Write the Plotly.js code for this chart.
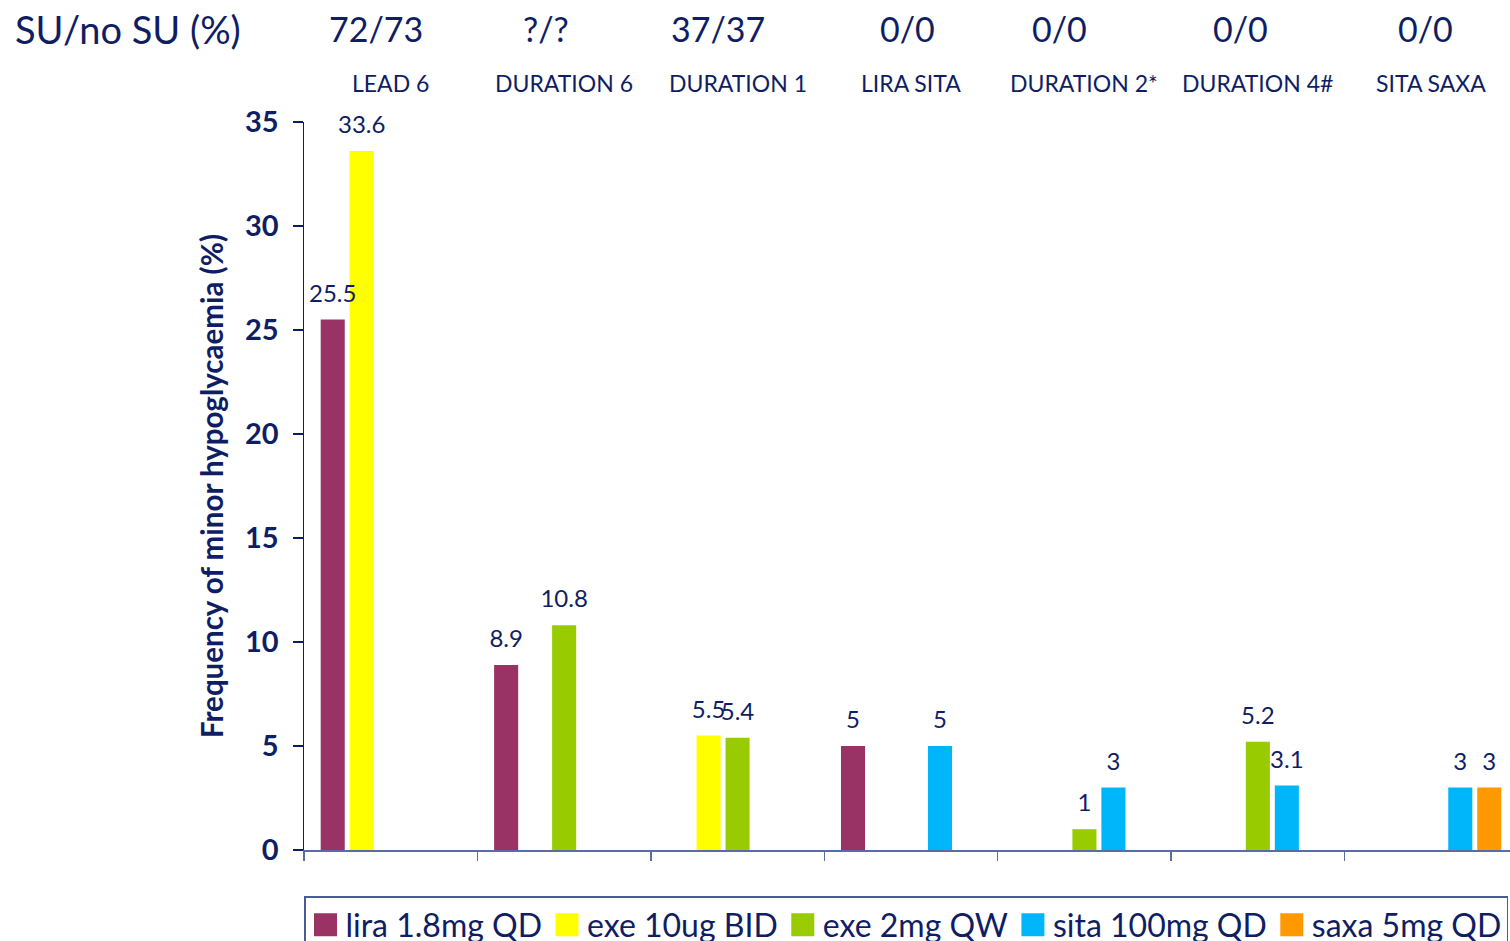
<!DOCTYPE html>
<html>
<head>
<meta charset="utf-8">
<script src="https://cdn.plot.ly/plotly-3.0.1.min.js"></script>
<style>
  html, body { margin: 0; padding: 0; background: #ffffff; overflow: hidden; }
  #chart { width: 1560px; height: 1000px; }
</style>
</head>
<body>
<div id="chart"></div>
<script>
// Trials along the x axis
const trials = ['LEAD 6', 'DURATION 6', 'DURATION 1', 'LIRA SITA', 'DURATION 2*', 'DURATION 4#', 'SITA SAXA'];
// Share of patients on background SU, shown above each trial
const suShares = ['72/73', '?/?', '37/37', '0/0', '0/0', '0/0', '0/0'];

// Frequency of minor hypoglycaemia (%) per treatment arm; null = arm not in trial
const lira18 = [25.5, 8.9, null, 5, null, null, null];
const exe10 = [33.6, null, 5.5, null, null, null, null];
const exe2 = [null, 10.8, 5.4, null, 1, 5.2, null];
const sita100 = [null, null, null, 5, 3, 3.1, 3];
const saxa5 = [null, null, null, null, null, null, 3];

const seriesNames = ['lira 1.8mg QD', 'exe 10ug BID', 'exe 2mg QW', 'sita 100mg QD', 'saxa 5mg QD'];
const seriesValues = [lira18, exe10, exe2, sita100, saxa5];
const seriesColors = ['#993366', '#FFFF00', '#99CC00', '#00B6FA', '#FF9900'];

const NAVY = '#0F1E64';
const FONT = 'Lato, "Open Sans", sans-serif';

const traces = seriesNames.map((name, i) => ({
  type: 'bar',
  name: name,
  x: trials,
  y: seriesValues[i],
  marker: { color: seriesColors[i] },
  text: seriesValues[i].map(v => (v === null ? '' : String(v))),
  texttemplate: '%{text}',
  textposition: 'outside',
  textfont: { family: FONT, size: 24, color: NAVY },
  constraintext: 'none',
  cliponaxis: false,
  hoverinfo: 'name+y'
}));

const annotations = [];
annotations.push({
  text: 'SU/no SU (%)', xref: 'paper', yref: 'paper', x: -0.145, y: 1.128,
  xanchor: 'center', yanchor: 'middle', showarrow: false,
  font: { family: FONT, size: 38, color: NAVY }
});
const suShift = [-15, -18, -20, -4, -25, -17, -6];
trials.forEach((t, i) => {
  annotations.push({
    text: suShares[i], xref: 'x', yref: 'paper', x: t, y: 1.128, xshift: suShift[i],
    xanchor: 'center', yanchor: 'middle', showarrow: false,
    font: { family: FONT, size: 34, color: NAVY }
  });
  annotations.push({
    text: t, xref: 'x', yref: 'paper', x: t, y: 1.054,
    xanchor: 'center', yanchor: 'middle', showarrow: false,
    font: { family: FONT, size: 23, color: NAVY }
  });
});

const layout = {
  width: 1560,
  height: 1000,
  margin: { l: 304, r: 42, t: 122, b: 150 },
  paper_bgcolor: '#ffffff',
  plot_bgcolor: '#ffffff',
  barmode: 'group',
  bargap: 0.164,
  bargroupgap: 0.17,
  font: { family: FONT, color: NAVY },
  showlegend: true,
  legend: {
    orientation: 'h',
    x: 0, xanchor: 'left',
    y: -0.0632, yanchor: 'top',
    bordercolor: '#4A5A95', borderwidth: 1.5,
    bgcolor: '#ffffff',
    font: { family: FONT, size: 32, color: NAVY },
    traceorder: 'normal',
    itemwidth: 30
  },
  xaxis: {
    type: 'category',
    showticklabels: false,
    ticks: 'outside', tickson: 'boundaries', ticklen: 9, tickwidth: 1.5,
    tickcolor: '#5A6BA5',
    showline: true, linecolor: '#5A6BA5', linewidth: 2,
    showgrid: false, zeroline: false, fixedrange: true
  },
  yaxis: {
    range: [0, 35], dtick: 5, tick0: 0,
    ticks: 'outside', ticklen: 10, tickwidth: 1.5, tickcolor: NAVY,
    showline: true, linecolor: NAVY, linewidth: 1.5,
    showgrid: false, zeroline: false, fixedrange: true,
    tickfont: { family: FONT, size: 29, color: NAVY, weight: 'bold' },
    ticklabelstandoff: 8,
    title: {
      text: 'Frequency of minor hypoglycaemia (%)',
      font: { family: FONT, size: 29.5, color: NAVY, weight: 'bold' },
      standoff: 12
    }
  },
  annotations: annotations
};

Plotly.newPlot('chart', traces, layout, { displayModeBar: false, staticPlot: true }).then(gd => {
  // value labels sit a little higher and are drawn above every bar
  const barLayer = gd.querySelector('.barlayer');
  const labelLayer = document.createElementNS('http://www.w3.org/2000/svg', 'g');
  labelLayer.setAttribute('class', 'valuelabels');
  gd.querySelectorAll('g.trace.bars text.bartext').forEach(el => {
    const tr = el.getAttribute('transform') || '';
    el.setAttribute('transform', 'translate(0,-10) ' + tr);
    labelLayer.appendChild(el);
  });
  barLayer.appendChild(labelLayer);

  // larger colour swatches in the legend
  gd.querySelectorAll('.legend .legendpoints path').forEach(p => {
    p.setAttribute('d', 'M11.5,11.5H-11.5V-11.5H11.5Z');
  });
});
</script>
</body>
</html>
